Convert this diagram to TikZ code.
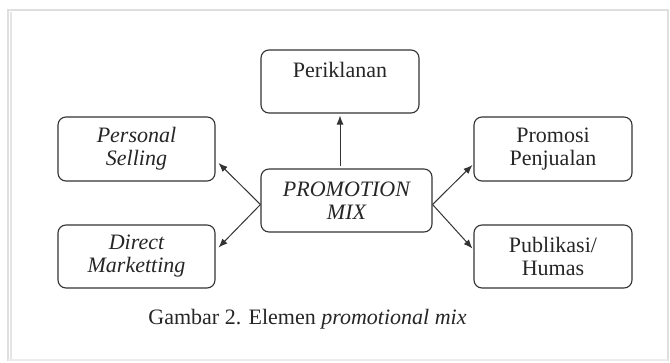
\documentclass[tikz,border=0pt]{standalone}
\usepackage{fontspec}
\setmainfont{Liberation Serif}
\usetikzlibrary{arrows.meta}
\begin{document}
\begin{tikzpicture}[x=1pt,y=-1pt,
        box/.style={draw=black!80,line width=1.1pt,rounded corners=8pt,align=center,
                    font=\fontsize{22}{23}\selectfont,text=black!85,inner sep=0pt},
        link/.style={draw=black!80,line width=1pt,-{Latex[length=9pt,width=7pt]}}]
        \useasboundingbox (0,0) rectangle (670,362);
        \fill[white] (0,0) rectangle (670,362);
        % frame of the page
        \draw[gray!25,line width=2.5pt] (8,361) -- (8,10) -- (668,10) -- (668,361);
        \draw[gray!15,line width=1.5pt] (8,360) -- (668,360);
        \draw[gray!20,line width=2pt] (11,12) -- (11,359);
        % boxes
        \node[box,minimum width=158pt,minimum height=63pt] (per) at (340,81.5) {Periklanan\\\mbox{}};
        \node[box,minimum width=157pt,minimum height=64pt] (ps) at (136.5,149) {\itshape Personal\\\itshape Selling};
        \node[box,minimum width=157pt,minimum height=63pt] (dm) at (136.5,256.5) {\itshape Direct\\\itshape Marketting};
        \node[box,minimum width=171pt,minimum height=63pt] (pm) at (346.5,200.5) {\itshape PROMOTION\\\itshape MIX};
        \node[box,minimum width=158pt,minimum height=64pt] (pp) at (553,149) {Promosi\\Penjualan};
        \node[box,minimum width=158pt,minimum height=63pt] (ph) at (553,256.5) {Publikasi/\\Humas};
        % arrows
        \draw[link] ([xshift=-6.5pt,yshift=2pt]pm.north) -- ([yshift=-2pt]per.south);
        \draw[link] ([yshift=-4pt]pm.west) -- ([xshift=3pt,yshift=-14pt]ps.east);
        \draw[link] ([yshift=-4pt]pm.west) -- ([xshift=3pt,yshift=9pt]dm.east);
        \draw[link] ([yshift=-4pt]pm.east) -- ([xshift=-1pt,yshift=-16pt]pp.west);
        \draw[link] ([yshift=-4pt]pm.east) -- ([xshift=-1pt,yshift=8pt]ph.west);
        % caption
        \node[font=\fontsize{22}{23}\selectfont,text=black!85] (cap) at (307.5,319) {Gambar 2. Elemen \textit{promotional mix}};
\end{tikzpicture}
\end{document}
